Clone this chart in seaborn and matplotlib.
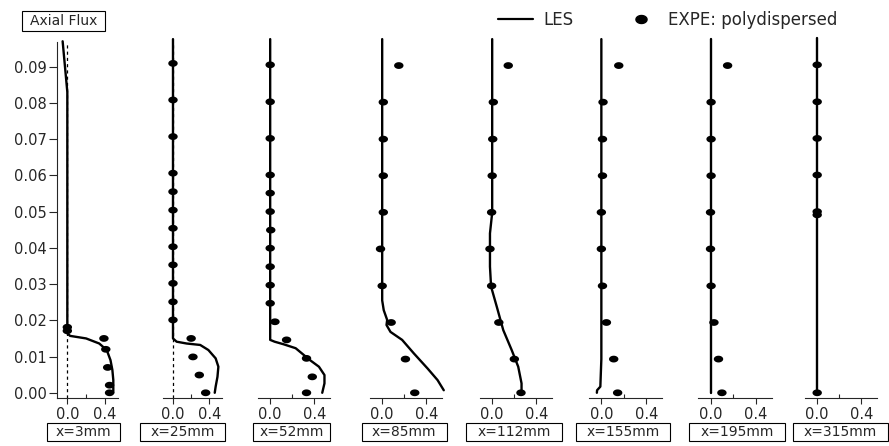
import matplotlib
matplotlib.use("Agg")
import matplotlib.pyplot as plt
from matplotlib.lines import Line2D
from matplotlib.patches import Rectangle
from matplotlib.path import Path
import numpy as np
import seaborn as sns

# station labels
stations = ["x=3mm", "x=25mm", "x=52mm", "x=85mm", "x=112mm", "x=155mm", "x=195mm", "x=315mm"]

# LES profiles (axial flux vs radial position)
les_3_y = [0.0970, 0.0830, 0.0164, 0.0157, 0.0150, 0.0136, 0.0118, 0.0090, 0.0063, 0.0035, 0.0]
les_3_x = [-0.05, 0.0, 0.0, 0.03, 0.20, 0.34, 0.42, 0.46, 0.48, 0.49, 0.49]
les_25_y = [0.0976, 0.0150, 0.0141, 0.0136, 0.0132, 0.0118, 0.0095, 0.0072, 0.0044, 0.0017, 0.0]
les_25_x = [0.0, 0.0, 0.04, 0.15, 0.30, 0.39, 0.47, 0.50, 0.49, 0.47, 0.46]
les_52_y = [0.0976, 0.0146, 0.0141, 0.0134, 0.0123, 0.0090, 0.0072, 0.0049, 0.0026, 0.0]
les_52_x = [0.0, 0.0, 0.04, 0.12, 0.23, 0.36, 0.44, 0.49, 0.49, 0.47]
les_85_y = [0.0976, 0.0255, 0.0228, 0.0201, 0.0187, 0.0168, 0.0146, 0.0109, 0.0067, 0.0035, 0.0007]
les_85_x = [0.0, 0.0, 0.014, 0.045, 0.039, 0.075, 0.18, 0.285, 0.41, 0.50, 0.556]
les_112_y = [0.0976, 0.0497, 0.0440, 0.0348, 0.0293, 0.0237, 0.0173, 0.0118, 0.0072, 0.0026, 0.0]
les_112_x = [0.0, 0.0, -0.02, -0.02, -0.01, 0.042, 0.10, 0.176, 0.235, 0.265, 0.265]
les_155_y = [0.0976, 0.0093, 0.0017, 0.0007, 0.0]
les_155_x = [0.0, 0.0, -0.009, -0.038, -0.04]
les_195_y = [0.0976, 0.0]
les_195_x = [0.0, 0.0]
les_315_y = [0.0980, 0.0]
les_315_x = [0.0, 0.0]

# experimental points (polydispersed)
expe_3_y = [0.0181, 0.0171, 0.0150, 0.0120, 0.0070, 0.0021, 0.0]
expe_3_x = [0.0, 0.0, 0.39, 0.41, 0.43, 0.45, 0.45]
expe_25_y = [0.0909, 0.0808, 0.0707, 0.0606, 0.0555, 0.0504, 0.0454, 0.0403,
             0.0353, 0.0302, 0.0251, 0.0201, 0.0150, 0.0099, 0.0049, 0.0]
expe_25_x = [0.0, 0.0, 0.0, 0.0, 0.0, 0.0, 0.0, 0.0,
             0.0, 0.0, 0.0, 0.0, 0.20, 0.22, 0.29, 0.36]
expe_52_y = [0.0905, 0.0803, 0.0702, 0.0601, 0.0551, 0.0500, 0.0449, 0.0399,
             0.0348, 0.0297, 0.0247, 0.0196, 0.0146, 0.0095, 0.0044, 0.0]
expe_52_x = [0.0, 0.0, 0.0, 0.0, 0.0, 0.0, 0.005, 0.0,
             0.0, 0.0, 0.0, 0.043, 0.148, 0.328, 0.38, 0.328]
expe_85_y = [0.0903, 0.0802, 0.0700, 0.0599, 0.0498, 0.0397, 0.0295, 0.0194, 0.0093, 0.0]
expe_85_x = [0.15, 0.01, 0.01, 0.01, 0.01, -0.015, 0.0, 0.081, 0.21, 0.294]
expe_112_y = [0.0903, 0.0802, 0.0700, 0.0599, 0.0498, 0.0397, 0.0295, 0.0194, 0.0093, 0.0]
expe_112_x = [0.145, 0.01, 0.005, 0.0, -0.005, -0.02, -0.005, 0.06, 0.20, 0.26]
expe_155_y = [0.0903, 0.0802, 0.0700, 0.0599, 0.0498, 0.0397, 0.0295, 0.0194, 0.0093, 0.0]
expe_155_x = [0.155, 0.015, 0.01, 0.01, 0.0, 0.0, 0.01, 0.045, 0.11, 0.145]
expe_195_y = [0.0903, 0.0802, 0.0700, 0.0599, 0.0498, 0.0397, 0.0295, 0.0194, 0.0093, 0.0]
expe_195_x = [0.15, 0.005, 0.005, 0.005, 0.0, 0.0, 0.005, 0.03, 0.07, 0.10]
expe_315_y = [0.0905, 0.0803, 0.0702, 0.0601, 0.0500, 0.0491, 0.0]
expe_315_x = [0.0, 0.0, 0.0, 0.0, 0.0, 0.0, 0.0]

y_ticks = [0.00, 0.01, 0.02, 0.03, 0.04, 0.05, 0.06, 0.07, 0.08, 0.09]
x_ticks = [0.0, 0.4]

les = [(les_3_x, les_3_y), (les_25_x, les_25_y), (les_52_x, les_52_y), (les_85_x, les_85_y),
       (les_112_x, les_112_y), (les_155_x, les_155_y), (les_195_x, les_195_y), (les_315_x, les_315_y)]
expe = [(expe_3_x, expe_3_y), (expe_25_x, expe_25_y), (expe_52_x, expe_52_y), (expe_85_x, expe_85_y),
        (expe_112_x, expe_112_y), (expe_155_x, expe_155_y), (expe_195_x, expe_195_y), (expe_315_x, expe_315_y)]

# layout in pixels
W, H = 889, 446
panel_left = [57, 163, 258, 370, 480, 589, 698, 805]
panel_width = [61, 59, 72, 72, 72, 73, 74, 72]
box_left = [46.7, 140, 253.3, 361.7, 466, 576, 689.3, 793.3]
box_right = [120, 225, 330, 446.7, 561.7, 670, 785, 888]

# slightly flattened dot, like the original markers
t = np.linspace(0, 2 * np.pi, 40)
dot = Path(np.column_stack([np.cos(t), 0.72 * np.sin(t)]), closed=True)

sns.set_style("ticks")
plt.rcParams['font.family'] = ['DejaVu Sans']

fig = plt.figure(figsize=(W / 100, H / 100), dpi=100)


def box_label(x0, x1, y0, y1, text, size):
    # rectangle given in pixels from top-left
    fig.add_artist(Rectangle((x0 / W, (H - y1) / H), (x1 - x0) / W, (y1 - y0) / H,
                             transform=fig.transFigure, fill=False, ec='k', lw=0.8))
    fig.text((x0 + x1) / 2 / W, (H - (y0 + y1) / 2) / H, text, ha='center', va='center',
             fontsize=size)


for i in range(8):
    ax = fig.add_axes([panel_left[i] / W, 48.5 / H, panel_width[i] / W, 355.5 / H])
    ax.set_facecolor('none')
    if i < 2:
        ax.axvline(0, color='k', lw=0.9, ls=(0, (2.5, 2.5)), zorder=1)
    lx, ly = les[i]
    sns.lineplot(x=lx, y=ly, sort=False, estimator=None, color='k', lw=1.7,
                 ax=ax, clip_on=False, zorder=2)
    ex, ey = expe[i]
    sns.scatterplot(x=ex, y=ey, color='k', s=46, marker=dot, edgecolor='none', ax=ax,
                    clip_on=False, zorder=3)
    ax.set_xlim(-0.11, 0.54)
    ax.set_ylim(-0.0013, 0.0968)
    ax.set_xticks(x_ticks)
    ax.set_xticklabels(['%.1f' % v for v in x_ticks], fontsize=10.5)
    ax.set_xticks([0.2], minor=True)
    ax.tick_params(axis='x', which='major', direction='out', length=4, width=0.8, pad=3)
    ax.tick_params(axis='x', which='minor', direction='in', length=3, width=0.8)
    for s in ['top', 'right']:
        ax.spines[s].set_visible(False)
    ax.spines['bottom'].set_linewidth(0.8)
    if i == 0:
        ax.set_yticks(y_ticks)
        ax.set_yticklabels(['%.2f' % v for v in y_ticks], fontsize=10.5)
        ax.tick_params(axis='y', direction='out', length=5.5, width=0.8, pad=2)
        ax.spines['left'].set_linewidth(0.8)
    else:
        ax.spines['left'].set_visible(False)
        ax.set_yticks([])
    ax.set_xlabel('')
    ax.set_ylabel('')
    box_label(box_left[i], box_right[i], 422.7, 440.7, stations[i], 10)

box_label(21.7, 105, 11, 30.7, 'Axial Flux', 10)

handles = [Line2D([], [], color='k', lw=1.6),
           Line2D([], [], color='k', marker=dot, ls='none', ms=8)]
fig.legend(handles, ['LES', 'EXPE: polydispersed'], loc='center',
           bbox_to_anchor=(668 / W, (H - 20) / H), ncol=2, frameon=False,
           fontsize=12, handlelength=2.1, handletextpad=0.6, columnspacing=3.0)

fig.savefig('out.png', dpi=100)
